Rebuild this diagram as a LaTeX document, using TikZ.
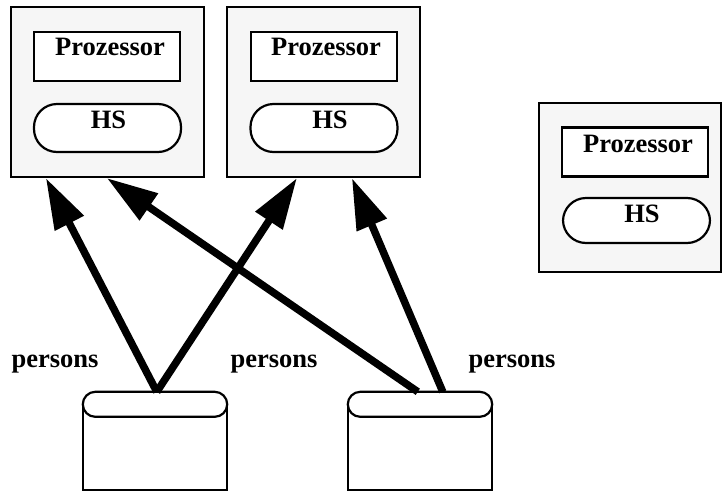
\documentclass[tikz,border=0pt]{standalone}
\usepackage{fontspec}
\setmainfont{Liberation Serif}
\usetikzlibrary{arrows.meta,calc}
\definecolor{panel}{RGB}{246,246,246}
\tikzset{
  lbl/.style={font=\fontsize{26.5}{30}\selectfont\bfseries, inner sep=0pt, anchor=base},
  node box/.style={draw, line width=2.2pt, fill=panel, rectangle, inner sep=0pt},
  proc box/.style={draw, line width=2.2pt, fill=white, rectangle, inner sep=0pt,
                   minimum width=146pt, minimum height=49pt},
  mem box/.style={draw, line width=2.2pt, fill=white, rectangle, rounded corners=23pt,
                  inner sep=0pt, minimum width=147pt, minimum height=48pt},
  store body/.style={rectangle, inner sep=0pt, minimum width=144pt, minimum height=98pt},
  store line/.style={line width=2.2pt},
  link/.style={line width=7.5pt, -{Triangle[length=51pt,width=31pt]}}
}
\begin{document}
\begin{tikzpicture}[x=1pt,y=-1pt]
\useasboundingbox (0,0) rectangle (723,493);

% processor nodes
\node[node box, minimum width=193pt, minimum height=170pt] (box1) at (107.5,92) {};
\node[node box, minimum width=193pt, minimum height=170pt] (box2) at (323.5,92) {};
\node[node box, minimum width=182pt, minimum height=169pt] (box3) at (630,187.5) {};

\node[proc box] (cpu1) at (107,56.5) {};
\node[proc box] (cpu2) at (324,56.5) {};
\node[proc box] (cpu3) at (635,152) {};

\node[mem box] (hs1) at (107.5,128) {};
\node[mem box] (hs2) at (324,128) {};
\node[mem box, minimum height=45pt] (hs3) at (636.5,220.5) {};

\node[lbl] (cpu1t) at (110,55) {Prozessor};
\node[lbl] (cpu2t) at (326,55) {Prozessor};
\node[lbl] (cpu3t) at (638,152) {Prozessor};
\node[lbl] (hs1t) at (108.5,128) {HS};
\node[lbl] (hs2t) at (330,128) {HS};
\node[lbl] (hs3t) at (642,222) {HS};

% data stores
\node[store body] (db1) at (155,441) {};
\node[store body] (db2) at (420,441) {};
\foreach \d in {db1,db2}{
  \draw[store line, fill=white] ([yshift=-12.5pt]\d.north west) -- (\d.south west)
        -- (\d.south east) -- ([yshift=-12.5pt]\d.north east);
  \draw[store line, fill=white, rounded corners=12.5pt]
        (\d.north west) rectangle ([yshift=-25pt]\d.north east);
}

% labels
\node[lbl] (p1) at (55,367) {persons};
\node[lbl] (p2) at (274,367) {persons};
\node[lbl] (p3) at (512,367) {persons};

% links
\coordinate (s1) at ([xshift=74pt]db1.north west);
\coordinate (s2) at ([xshift=70pt]db2.north west);
\coordinate (s3) at ([xshift=95pt]db2.north west);
\coordinate (t1) at ([xshift=36pt]box1.south west);
\coordinate (t2) at ([xshift=97pt]box1.south west);
\coordinate (t3) at ([xshift=71pt]box2.south west);
\coordinate (t4) at ([xshift=126pt]box2.south west);
\draw[link] (s1) -- (t1);
\draw[link] (s1) -- (t3);
\draw[link] (s2) -- (t2);
\draw[link] (s3) -- (t4);
\end{tikzpicture}
\end{document}
